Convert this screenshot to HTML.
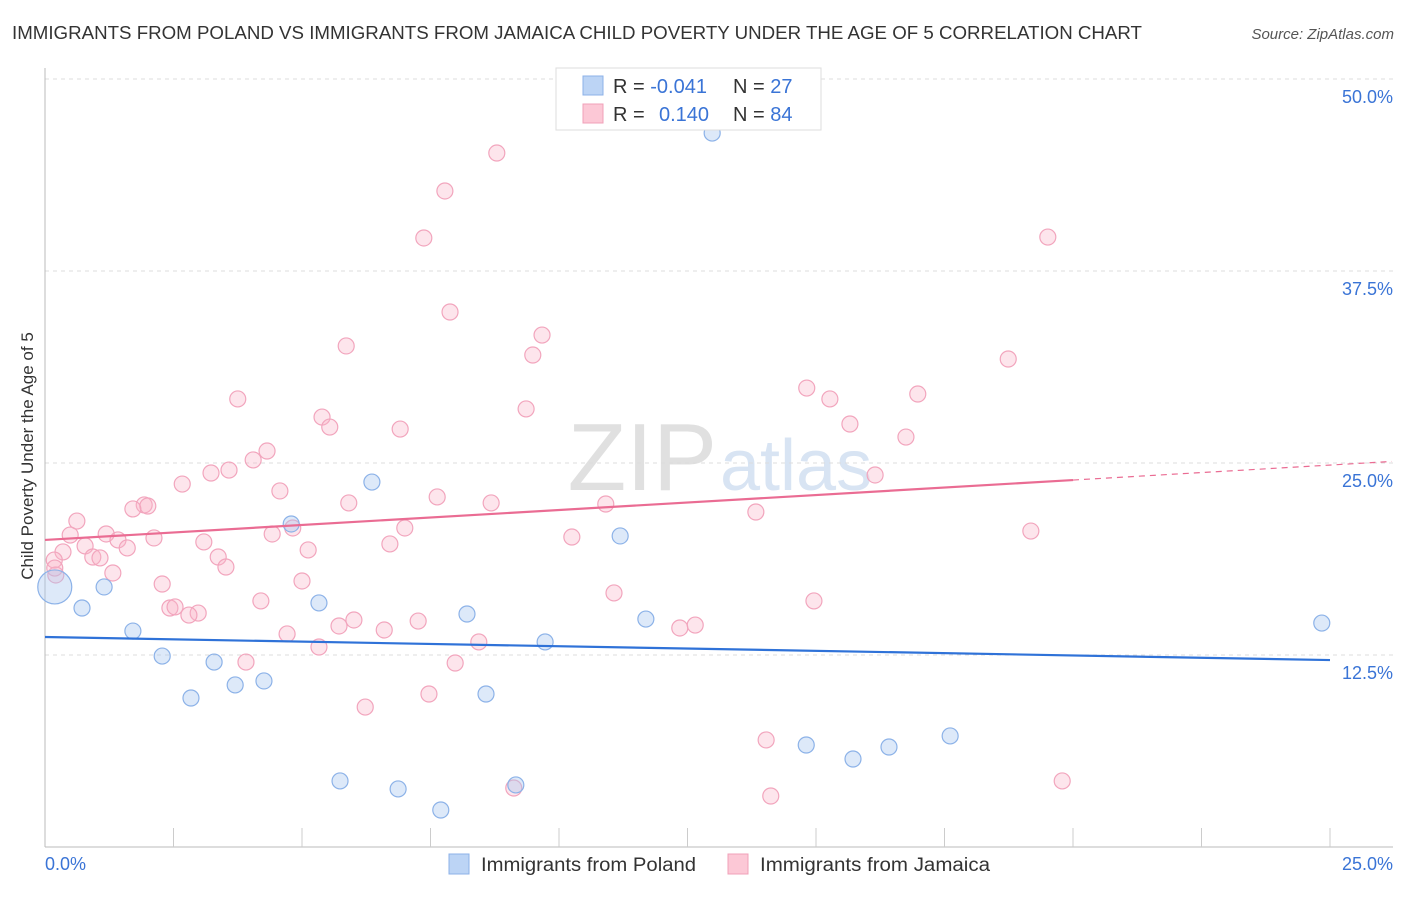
<!DOCTYPE html>
<html><head><meta charset="utf-8"><style>
body{margin:0;background:#fff;font-family:"Liberation Sans",sans-serif;}
svg text{font-family:"Liberation Sans",sans-serif;}
</style></head><body>
<svg id="chart" width="1406" height="892" viewBox="0 0 1406 892" xmlns="http://www.w3.org/2000/svg">
<text x="12" y="39" font-size="18" fill="#333" textLength="1130" lengthAdjust="spacingAndGlyphs">IMMIGRANTS FROM POLAND VS IMMIGRANTS FROM JAMAICA CHILD POVERTY UNDER THE AGE OF 5 CORRELATION CHART</text>
<text x="1394" y="39" font-size="15" fill="#555" font-style="italic" text-anchor="end">Source: ZipAtlas.com</text>
<text x="717" y="490" font-size="96" fill="#e0e0e0" font-family="Liberation Serif" text-anchor="end">ZIP</text>
<text x="720" y="490" font-size="72" fill="#d8e4f3">atlas</text>
<g id="grid"></g><g id="axes"></g><g id="pts"></g><g id="trends"></g>
<text transform="translate(33,456) rotate(-90)" font-size="17" fill="#333" text-anchor="middle">Child Poverty Under the Age of 5</text>
<g>
<rect x="556" y="68" width="265" height="62" fill="#fff" stroke="#ddd"/>
<rect x="583" y="76" width="20" height="19" fill="#bcd4f5" stroke="#8cb2e8"/>
<rect x="583" y="104" width="20" height="19" fill="#fcc8d6" stroke="#f0a0b8"/>
<text x="613" y="93" font-size="20" fill="#333">R = <tspan fill="#3a74d6">-0.041</tspan></text>
<text x="733" y="93" font-size="20" fill="#333">N = <tspan fill="#3a74d6">27</tspan></text>
<text x="613" y="121" font-size="20" fill="#333">R = </text>
<text x="659" y="121" font-size="20" fill="#3a74d6">0.140</text>
<text x="733" y="121" font-size="20" fill="#333">N = <tspan fill="#3a74d6">84</tspan></text>
</g>
<g>
<rect x="449" y="854" width="20" height="20" fill="#bcd4f5" stroke="#8cb2e8"/>
<text x="481" y="871" font-size="19" fill="#333" textLength="215" lengthAdjust="spacingAndGlyphs">Immigrants from Poland</text>
<rect x="728" y="854" width="20" height="20" fill="#fcc8d6" stroke="#f0a0b8"/>
<text x="760" y="871" font-size="19" fill="#333" textLength="230" lengthAdjust="spacingAndGlyphs">Immigrants from Jamaica</text>
</g>
</svg>
<script>
const yTicks=[12.5,25.0,37.5,50.0];
const xTickLabels=["0.0%","25.0%"];
const polandX=[12.98,6.36,4.79,11.19,1.15,0.72,5.33,8.21,11.69,24.84,1.71,9.73,2.28,3.29,3.70,4.26,2.84,8.58,14.81,15.72,16.42,17.61,5.74,6.87,9.16,7.70,0.19];
const polandY=[46.48,23.76,21.03,20.25,16.93,15.56,15.89,15.17,14.84,14.58,14.06,13.35,12.43,12.04,10.55,10.81,9.70,9.96,6.64,5.73,6.51,7.23,4.30,3.78,4.04,2.41,16.93];
const jamaicaX=[8.79,7.78,7.37,19.51,7.88,9.67,5.86,9.49,18.74,14.82,3.75,15.27,16.98,9.36,5.39,5.54,6.91,15.66,16.75,4.32,4.05,3.58,3.23,16.15,2.67,4.57,7.63,5.91,8.68,10.91,1.93,2.00,1.71,13.83,0.62,7.00,4.82,4.42,0.49,1.19,19.18,1.42,2.12,3.09,10.25,6.71,0.78,5.12,1.60,0.35,0.93,1.07,3.37,0.18,3.52,1.32,0.21,5.00,2.28,11.07,4.20,14.96,2.43,2.53,2.98,2.80,6.01,7.26,5.72,6.60,12.35,12.65,4.71,5.33,8.44,3.91,7.98,7.47,6.23,14.03,9.12,14.12,19.79,0.19];
const jamaicaY=[45.18,42.71,39.65,39.71,34.83,33.33,32.62,32.03,31.77,29.88,29.17,29.17,29.49,28.52,27.99,27.34,27.21,27.54,26.69,25.78,25.20,24.54,24.35,24.22,23.63,23.18,22.79,22.40,22.40,22.33,22.27,22.20,22.01,21.81,21.22,20.77,20.77,20.38,20.31,20.38,20.57,19.99,20.12,19.86,20.18,19.73,19.60,19.34,19.47,19.21,18.88,18.82,18.88,18.68,18.23,17.84,17.71,17.32,17.12,16.54,16.02,16.02,15.56,15.63,15.23,15.10,14.78,14.71,14.39,14.13,14.26,14.45,13.87,13.02,13.35,12.04,11.98,9.96,9.11,6.97,3.84,3.32,4.30,18.16];
const polandTrend=[13.67,12.17];
const jamaicaTrend=[19.99,23.89,25.1];
const jamaicaTrendX=[0,20,26.2];

const NS="http://www.w3.org/2000/svg";
const X0=45,X1=1330,Y0=847,YT=79;
const sx=v=>X0+(X1-X0)*v/25;
const sy=v=>Y0-(Y0-YT)*v/50;
function mk(tag,attrs,parent){const e=document.createElementNS(NS,tag);for(const k in attrs)e.setAttribute(k,attrs[k]);parent.appendChild(e);return e;}
const grid=document.getElementById('grid'),axes=document.getElementById('axes'),pts=document.getElementById('pts'),tr=document.getElementById('trends');
yTicks.forEach(t=>{
  const l=mk('line',{x1:X0,x2:1393,y1:sy(t),y2:sy(t),stroke:'#ddd','stroke-dasharray':'4,4'},grid);
  
  
  const tx=mk('text',{x:1393,y:sy(t)+24,'font-size':18,fill:'#3a74d6','text-anchor':'end'},grid);
  tx.textContent=t.toFixed(1)+'%';
  
  
});
let a=mk('line',{x1:X0,x2:X0,y1:68,y2:Y0,stroke:'#bbb'},axes);


a=mk('line',{x1:X0,x2:1393,y1:Y0,y2:Y0,stroke:'#bbb'},axes);


for(let i=1;i<=10;i++){const t=mk('line',{x1:sx(i*2.5),x2:sx(i*2.5),y1:828,y2:Y0,stroke:'#ccc'},axes);

}
let xl=mk('text',{x:45,y:870,'font-size':18,fill:'#3a74d6'},axes);xl.textContent=xTickLabels[0];


xl=mk('text',{x:1393,y:870,'font-size':18,fill:'#3a74d6','text-anchor':'end'},axes);xl.textContent=xTickLabels[1];


jamaicaX.forEach((x,i)=>{const c=mk('circle',{cx:sx(x),cy:sy(jamaicaY[i]),r:8,fill:'rgba(249,180,200,0.35)',stroke:'#f2a5bd','stroke-width':1.2},pts);

});
polandX.forEach((x,i)=>{const c=mk('circle',{cx:sx(x),cy:sy(polandY[i]),r:i===polandX.length-1?17:8,fill:'rgba(170,200,240,0.4)',stroke:'#8cb2e8','stroke-width':1.2},pts);

});
let t=mk('line',{x1:sx(0),y1:sy(polandTrend[0]),x2:sx(25),y2:sy(polandTrend[1]),stroke:'#2f72d8','stroke-width':2.2},tr);


t=mk('line',{x1:sx(jamaicaTrendX[0]),y1:sy(jamaicaTrend[0]),x2:sx(jamaicaTrendX[1]),y2:sy(jamaicaTrend[1]),stroke:'#ea6c93','stroke-width':2.2},tr);


t=mk('line',{x1:sx(jamaicaTrendX[1]),y1:sy(jamaicaTrend[1]),x2:sx(jamaicaTrendX[2]),y2:sy(jamaicaTrend[2]),stroke:'#ea6c93','stroke-width':1.2,'stroke-dasharray':'6,5'},tr);


</script>
</body></html>
